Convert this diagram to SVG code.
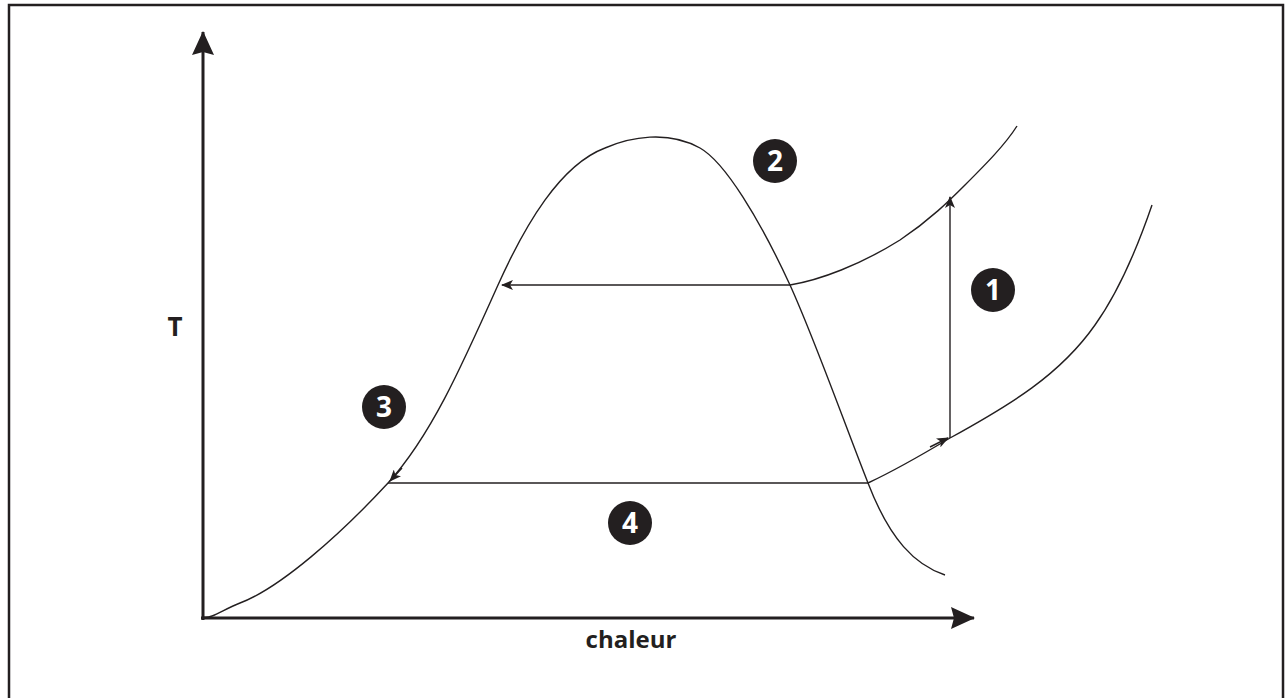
<svg xmlns="http://www.w3.org/2000/svg" width="1286" height="698" viewBox="0 0 1286 698">
<defs>
<style>
.ln{fill:none;stroke:#231f20;stroke-width:1.4}
.ax{fill:none;stroke:#231f20;stroke-width:3}
.lbl{font-family:"Open Sans",sans-serif;font-weight:bold;font-size:24px;fill:#231f20}
.num{font-family:"Open Sans",sans-serif;font-weight:bold;font-size:28px;fill:#fff;text-anchor:middle}
.badge{fill:#231f20}
</style>
<marker id="ah" viewBox="0 0 12 10" refX="11" refY="5" markerWidth="12" markerHeight="10" markerUnits="userSpaceOnUse" orient="auto">
<path d="M0,0 L12,5 L0,10 L3,5 Z" fill="#231f20"/>
</marker>
<marker id="big" viewBox="0 0 24 22" refX="23" refY="11" markerWidth="24" markerHeight="22" markerUnits="userSpaceOnUse" orient="auto">
<path d="M0,0 L24,11 L0,22 L3,11 Z" fill="#231f20"/>
</marker>
</defs>
<rect x="9" y="5" width="1274" height="700" fill="#fff" stroke="#231f20" stroke-width="2.5"/>
<g id="axes">
<line class="ax" x1="203" y1="620" x2="203" y2="32" marker-end="url(#big)"/>
<line class="ax" x1="201" y1="618" x2="974" y2="618" marker-end="url(#big)"/>
<text class="lbl" x="175" y="336" text-anchor="middle" style="font-size:26px">T</text>
<text class="lbl" x="631" y="648" text-anchor="middle">chaleur</text>
</g>
<g id="curves">
<path class="ln" d="M203,617 C212,619 222,610 240,603 C280,588 340,535 388,483 C430,437 460,370 498,285 C525,225 560,165 605,148 C630,137 668,130 700,148 C725,162 760,220 790,285 C815,340 845,425 868,483 C890,540 915,565 945,575"/>
<path class="ln" d="M790,285 C820,280 860,265 900,240 C930,220 950,200 965,185 C985,165 1005,145 1017,126"/>
<path class="ln" d="M868,483 C900,468 930,450 950,438 C1010,405 1060,375 1095,325 C1120,290 1140,240 1152,205"/>
</g>
<g id="connectors">
<line class="ln" x1="790" y1="285" x2="502" y2="285" marker-end="url(#ah)"/>
<line class="ln" x1="868" y1="483" x2="388" y2="483"/>
<path class="ln" d="M402,468 L390,481" marker-end="url(#ah)"/>
<line class="ln" x1="950" y1="438" x2="950" y2="197" marker-end="url(#ah)"/>
<path class="ln" d="M930,447 L948,438" marker-end="url(#ah)"/>
</g>
<g id="badge1"><circle class="badge" cx="993" cy="290" r="22"/><text class="num" x="993" y="300">1</text></g>
<g id="badge2"><circle class="badge" cx="775" cy="161" r="22"/><text class="num" x="775" y="171">2</text></g>
<g id="badge3"><circle class="badge" cx="384" cy="407" r="22"/><text class="num" x="384" y="417">3</text></g>
<g id="badge4"><circle class="badge" cx="630" cy="523" r="22"/><text class="num" x="630" y="533">4</text></g>
</svg>
